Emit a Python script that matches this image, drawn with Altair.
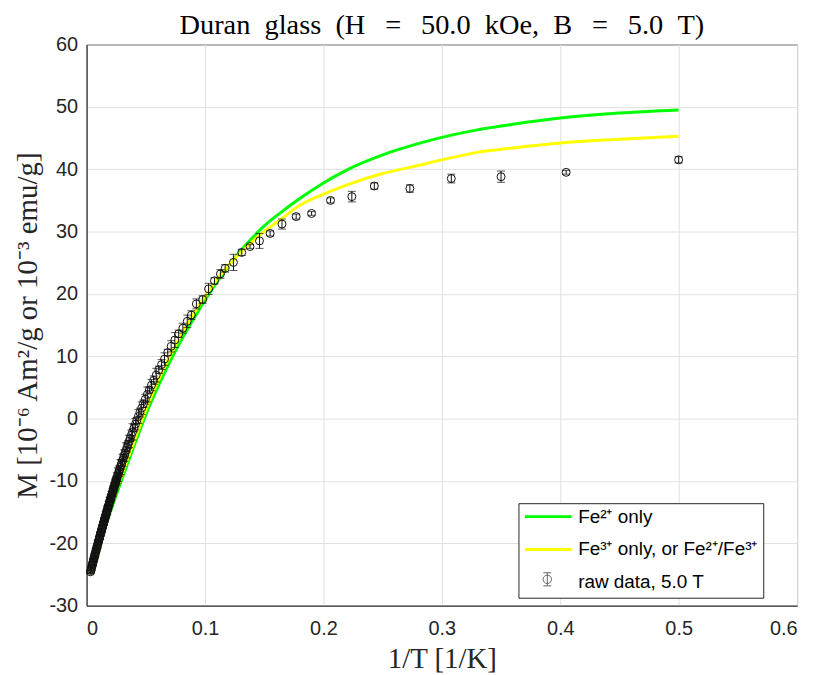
import altair as alt
import pandas as pd

# ---------------- data ----------------
# raw data, 5.0 T : 1/T [1/K], M, error (three temperature ranges)
inv_T_hot = [0.0033, 0.0036, 0.0039, 0.0042, 0.0045, 0.0048, 0.0051, 0.0054, 0.0057, 0.0060,
             0.0063, 0.0066, 0.0069, 0.0072, 0.0075, 0.0078, 0.0081, 0.0084, 0.0087, 0.0090,
             0.0093, 0.0096, 0.0099, 0.0102, 0.0105, 0.0108, 0.0111, 0.0114, 0.0117, 0.0120,
             0.0123, 0.0126, 0.0129, 0.0132, 0.0135, 0.0138, 0.0141, 0.0144, 0.0147, 0.0150,
             0.0153, 0.0156, 0.0159, 0.0162, 0.0165, 0.0168, 0.0171, 0.0174, 0.0177, 0.0180,
             0.0183, 0.0186, 0.0189, 0.0192, 0.0195, 0.0198, 0.0201, 0.0204, 0.0207, 0.0210,
             0.0213, 0.0216, 0.0219, 0.0222, 0.0225, 0.0228, 0.0231, 0.0234, 0.0237, 0.0240,
             0.0243, 0.0246, 0.0249]
M_hot = [-24.57, -24.35, -24.13, -23.91, -23.68, -23.46, -23.24, -23.02, -22.80, -22.58,
         -22.36, -22.15, -21.93, -21.71, -21.50, -21.28, -21.07, -20.85, -20.64, -20.43,
         -20.21, -20.00, -19.79, -19.58, -19.37, -19.16, -18.95, -18.74, -18.53, -18.33,
         -18.12, -17.91, -17.71, -17.50, -17.30, -17.09, -16.89, -16.69, -16.49, -16.28,
         -16.08, -15.88, -15.68, -15.48, -15.28, -15.09, -14.89, -14.69, -14.50, -14.30,
         -14.11, -13.91, -13.72, -13.52, -13.33, -13.14, -12.95, -12.75, -12.56, -12.37,
         -12.18, -11.99, -11.81, -11.62, -11.43, -11.24, -11.06, -10.87, -10.69, -10.50,
         -10.32, -10.14, -9.95]
err_hot = [0.3, 0.4, 0.3, 0.5, 0.2, 0.4, 0.3, 0.6, 0.3, 0.4,
           0.3, 0.5, 0.4, 0.3, 0.6, 0.2, 0.4, 0.5, 0.3, 0.4,
           0.6, 0.3, 0.4, 0.2, 0.5, 0.3, 0.4, 0.6, 0.3, 0.5,
           0.4, 0.3, 0.6, 0.4, 0.3, 0.5, 0.2, 0.4, 0.6, 0.3,
           0.5, 0.4, 0.3, 0.6, 0.4, 0.5, 0.3, 0.7, 0.4, 0.5,
           0.3, 0.6, 0.4, 0.5, 0.7, 0.3, 0.5, 0.6, 0.4, 0.7,
           0.5, 0.3, 0.6, 0.8, 0.4, 0.5, 0.7, 0.6, 0.4, 0.8,
           0.5, 0.6, 0.7]

inv_T_mid = [0.0252, 0.0256, 0.0260, 0.0265, 0.0270, 0.0275, 0.0280, 0.0286, 0.0292, 0.0298,
             0.0304, 0.0311, 0.0318, 0.0325, 0.0333, 0.0341, 0.0350, 0.0359, 0.0368, 0.0378,
             0.0388, 0.0400, 0.0412, 0.0424, 0.0437, 0.0450, 0.0465, 0.0480, 0.0496, 0.0513,
             0.0530, 0.0548, 0.0567, 0.0588, 0.0610, 0.0633, 0.0658, 0.0685, 0.0714, 0.0745,
             0.0778, 0.0813, 0.0850, 0.0885]
M_mid = [-9.77, -9.53, -9.29, -8.99, -8.69, -8.40, -8.10, -7.75, -7.40, -7.05,
         -6.71, -6.31, -5.91, -5.52, -5.08, -4.63, -4.14, -3.66, -3.17, -2.65,
         -2.12, -1.51, -0.90, -0.30, 0.34, 0.97, 1.68, 2.38, 3.11, 3.86,
         4.60, 5.36, 6.14, 6.97, 7.82, 8.67, 9.55, 10.6, 11.6, 12.6,
         13.6, 14.5, 15.6, 16.6]
err_mid = [0.4, 0.9, 0.5, 1.1, 0.6, 0.8, 0.5, 1.2, 0.7, 0.5,
           1.0, 0.6, 0.9, 0.5, 1.2, 0.7, 0.6, 1.0, 0.5, 0.8,
           1.3, 0.6, 0.9, 0.5, 1.1, 0.7, 1.0, 0.6, 0.8, 1.2,
           0.5, 0.9, 0.7, 1.1, 0.6, 0.8, 1.0, 0.5, 0.9, 1.2,
           0.6, 0.8, 1.0, 0.7]

inv_T_cold = [0.0927, 0.098, 0.103, 0.108, 0.113, 0.117, 0.124, 0.131, 0.138, 0.146, 0.155,
              0.165, 0.177, 0.190, 0.206, 0.224, 0.243, 0.273, 0.308, 0.350, 0.405, 0.500]
M_cold = [18.4, 19.1, 20.8, 22.1, 23.2, 24.1, 25.05, 26.65, 27.6, 28.5, 29.7,
          31.2, 32.4, 32.9, 35.0, 35.6, 37.3, 36.9, 38.5, 38.8, 39.5, 41.5]
err_cold = [0.8, 0.6, 0.9, 0.5, 0.7, 0.6, 1.3, 0.5, 0.3, 1.2, 0.4,
            0.8, 0.4, 0.3, 0.4, 0.85, 0.5, 0.6, 0.7, 0.9, 0.3, 0.5]

# model curves
curve_inv_T = [0.0033, 0.01, 0.02, 0.03, 0.04, 0.05, 0.06, 0.07, 0.08, 0.09, 0.10, 0.11, 0.12, 0.13,
               0.14, 0.15, 0.165, 0.18, 0.20, 0.22, 0.25, 0.28, 0.30, 0.33, 0.36, 0.40, 0.45, 0.50]
M_fe2 = [-24.6, -20.8, -15.0, -9.6, -4.4, 0.6, 5.0, 9.0, 12.6, 15.9, 19.0, 21.9, 24.5, 26.9,
         29.0, 30.9, 33.2, 35.3, 37.8, 39.9, 42.3, 44.1, 45.1, 46.3, 47.2, 48.2, 49.0, 49.5]
M_fe3 = [-24.6, -20.5, -14.5, -8.9, -3.7, 1.4, 5.9, 9.9, 13.5, 16.7, 19.6, 22.3, 24.6, 26.6,
         28.4, 30.0, 32.1, 34.2, 36.0, 37.5, 39.3, 40.6, 41.5, 42.7, 43.4, 44.2, 44.8, 45.3]

lab_fe2 = "Fe²⁺ only"
lab_fe3 = "Fe³⁺ only, or Fe²⁺/Fe³⁺"
lab_raw = "raw data, 5.0 T"

EN, TH = "\u2002", "\u2009"
title_text = ("Duran" + EN + "glass" + EN + "(H" + EN + TH + "=" + EN + TH + "50.0" + EN + "kOe,"
              + EN + "B" + EN + TH + "=" + EN + TH + "5.0" + EN + "T)")
x_title = "1/T [1/K]"
y_title = "M [10⁻⁶ Am²/g or 10⁻³ emu/g]"

x_ticks = [0, 0.1, 0.2, 0.3, 0.4, 0.5, 0.6]
y_ticks = [-30, -20, -10, 0, 10, 20, 30, 40, 50, 60]

# ---------------- tables ----------------
inv_T = inv_T_hot + inv_T_mid + inv_T_cold
M_all = M_hot + M_mid + M_cold
err_all = err_hot + err_mid + err_cold
pts = pd.DataFrame({"x": inv_T, "M": M_all, "err": err_all})
pts["lo"] = pts["M"] - pts["err"]
pts["hi"] = pts["M"] + pts["err"]
pts["kind"] = lab_raw

curves = pd.concat([
    pd.DataFrame({"x": curve_inv_T, "M": M_fe2, "series": lab_fe2}),
    pd.DataFrame({"x": curve_inv_T, "M": M_fe3, "series": lab_fe3}),
])

AX = "#262626"
SANS = "Liberation Sans"
SERIF = "Liberation Serif"

xs = alt.Scale(domain=[0, 0.6], nice=False, zero=False)
ys = alt.Scale(domain=[-30, 60], nice=False, zero=False)

x_enc = alt.X("x:Q", scale=xs, title=x_title,
              axis=alt.Axis(values=x_ticks, format="~g", labelPadding=13, titlePadding=6))
y_enc = alt.Y("M:Q", scale=ys, title=y_title,
              axis=alt.Axis(values=y_ticks, labelExpr="'' + datum.value", labelPadding=9,
                            titlePadding=6))

legend_lines = alt.Legend(
    title=None, orient="none", legendX=434, legendY=461, padding=5,
    strokeColor=AX, fillColor="white", symbolType="stroke", symbolSize=2209,
    symbolStrokeWidth=3, clipHeight=17, rowPadding=13, labelFont=SANS, labelFontSize=19,
    labelColor="black", labelOffset=5, labelLimit=400, zindex=0,
)
color_enc = alt.Color(
    "series:N",
    scale=alt.Scale(domain=[lab_fe2, lab_fe3, lab_raw],
                    range=["#00ff00", "#ffff00", "rgba(0,0,0,0)"]),
    legend=legend_lines,
)

base_c = alt.Chart(curves)
line_g = base_c.transform_filter(alt.datum.series == lab_fe2).mark_line(
    strokeWidth=3, interpolate="monotone").encode(x=x_enc, y=y_enc, color=color_enc)
line_y = base_c.transform_filter(alt.datum.series == lab_fe3).mark_line(
    strokeWidth=3, interpolate="monotone").encode(x=x_enc, y=y_enc, color=color_enc)

base_p = alt.Chart(pts)
bars = base_p.mark_rule(color="#111111", strokeWidth=1).encode(
    x=alt.X("x:Q", scale=xs), y=alt.Y("lo:Q", scale=ys), y2="hi:Q")
cap_lo = base_p.mark_tick(color="#111111", orient="horizontal", size=8, thickness=1).encode(
    x=alt.X("x:Q", scale=xs), y=alt.Y("lo:Q", scale=ys))
cap_hi = base_p.mark_tick(color="#111111", orient="horizontal", size=8, thickness=1).encode(
    x=alt.X("x:Q", scale=xs), y=alt.Y("hi:Q", scale=ys))
circles = base_p.mark_point(shape="circle", filled=False, size=64, color="#111111",
                            strokeWidth=1, opacity=1).encode(x=x_enc, y=y_enc)

glyph = ("M-0.17,-0.28H0.17M0,-0.28V0.28M-0.17,0.28H0.17"
         "M0.18,0A0.18,0.18,0,1,1,-0.18,0A0.18,0.18,0,1,1,0.18,0Z")
legend_raw = alt.Legend(
    title=None, orient="none", legendX=434, legendY=524, padding=5,
    symbolSize=2209, symbolStrokeWidth=1, symbolStrokeColor=AX, symbolFillColor="transparent",
    clipHeight=17, labelExpr="''", labelFontSize=1, zindex=2,
)
legend_layer = base_p.transform_filter("false").mark_point(
    filled=False, color=AX, strokeWidth=1).encode(
    x=alt.X("x:Q", scale=xs), y=alt.Y("M:Q", scale=ys),
    shape=alt.Shape("kind:N", scale=alt.Scale(domain=[lab_raw], range=[glyph]), legend=legend_raw),
)

chart = alt.layer(line_g, line_y, bars, cap_lo, cap_hi, circles, legend_layer).properties(
    width=714, height=564,
    title=alt.TitleParams(title_text, font=SERIF, fontSize=28.5,
                          fontWeight="normal", color="black", offset=-5, anchor="middle"),
    autosize=alt.AutoSizeParams(type="none"),
    padding={"left": 79, "top": 35, "right": 12, "bottom": 67},
    background="white",
).configure_view(stroke=AX, strokeWidth=1).configure_axis(
    grid=True, gridColor="#e0e0e0", gridWidth=1, domainColor=AX, domainWidth=1,
    tickSize=0, labelFont=SANS, labelFontSize=20, labelColor=AX,
    titleFont=SERIF, titleFontSize=29, titleFontWeight="normal", titleColor=AX,
)

chart.save("out.html", embed_options={"renderer": "svg", "actions": False})
